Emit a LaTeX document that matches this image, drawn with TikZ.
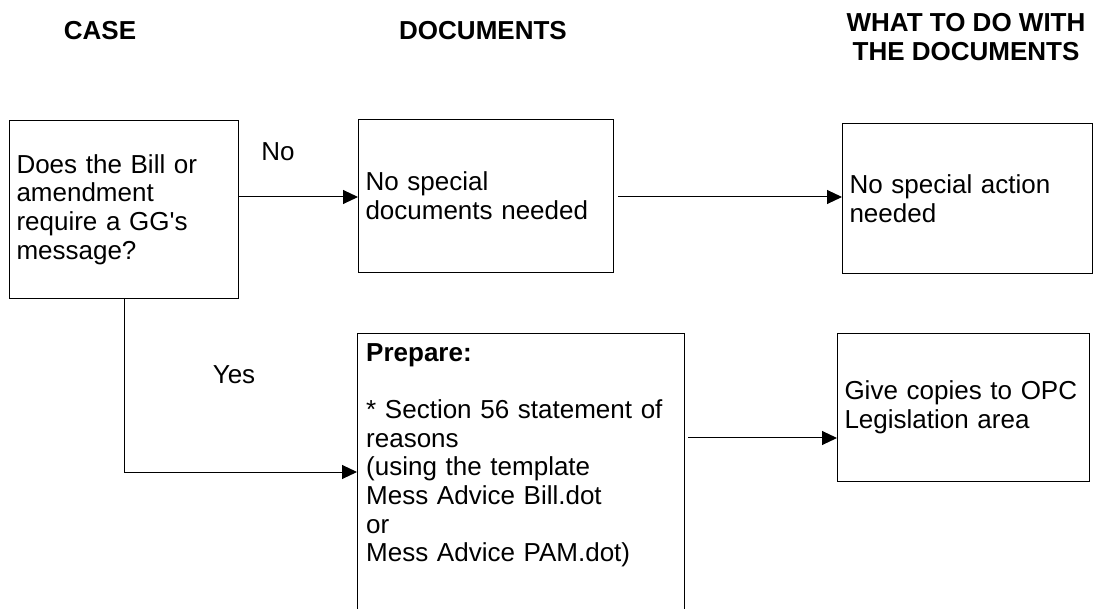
\documentclass[tikz,border=0pt]{standalone}
\usepackage{fontspec}
\setmainfont{Liberation Sans}
\usetikzlibrary{arrows.meta}
\newcommand{\bodyfont}{\fontsize{26}{28.7}\selectfont}
\tikzset{
  box/.style={draw, line width=1pt, inner xsep=7pt, inner ysep=0pt, align=left, font=\bodyfont, anchor=north west},
  hdr/.style={font=\bodyfont\bfseries, align=center, inner sep=0pt},
  lbl/.style={font=\bodyfont, inner sep=0pt},
  arr/.style={line width=1pt, -{Triangle[length=15pt,width=14pt]}},
  plain/.style={line width=1pt}
}
\begin{document}
\begin{tikzpicture}[x=1pt,y=-1pt]
\useasboundingbox (0,0) rectangle (1098,609);
\clip (0,0) rectangle (1098,609);
% headers
\node[hdr] (h1) at (100,31) {CASE};
\node[hdr] (h2) at (483,31) {DOCUMENTS};
\node[hdr] (h3) at (966,37) {WHAT TO DO WITH\\THE DOCUMENTS};
% boxes
\node[box, text width=215pt, minimum height=178pt] (A) at (9,120)
  {Does the Bill or\\amendment\\require a GG\textquotesingle s\\message?};
\node[box, text width=241pt, minimum height=153pt] (B) at (358,119)
  {No special\\documents needed};
\node[box, text width=236pt, minimum height=150pt] (C) at (842,123)
  {No special action\\needed};
\node[box, text width=238pt, minimum height=148pt] (E) at (837,333)
  {Give copies to OPC\\Legislation area};
\node[draw, line width=1pt, minimum width=327pt, minimum height=300pt, inner sep=0pt, anchor=north west] (D) at (357,333) {};
\node[anchor=north west, font=\bodyfont, align=left, inner xsep=9pt, inner ysep=10pt, text width=305pt] (Dt) at (D.north west)
  {\textbf{Prepare:}\\[28.7pt]* Section 56 statement of\\reasons\\(using the template\\Mess Advice Bill.dot\\or\\Mess Advice PAM.dot)};
% labels
\node[lbl] (no) at (278,152) {No};
\node[lbl] (yes) at (234,375) {Yes};
% connectors
\draw[arr] (A.east |- 0,197) -- (B.west |- 0,197);
\draw[arr] ([xshift=4pt]B.east |- 0,197) -- (C.west |- 0,197);
\coordinate (yturn) at (A.south |- 0,472);
\draw[arr] (A.south) -- (yturn) -- (yturn -| D.west);
\draw[arr] ([xshift=3pt]D.east |- 0,438) -- (E.west |- 0,438);
\end{tikzpicture}
\end{document}
